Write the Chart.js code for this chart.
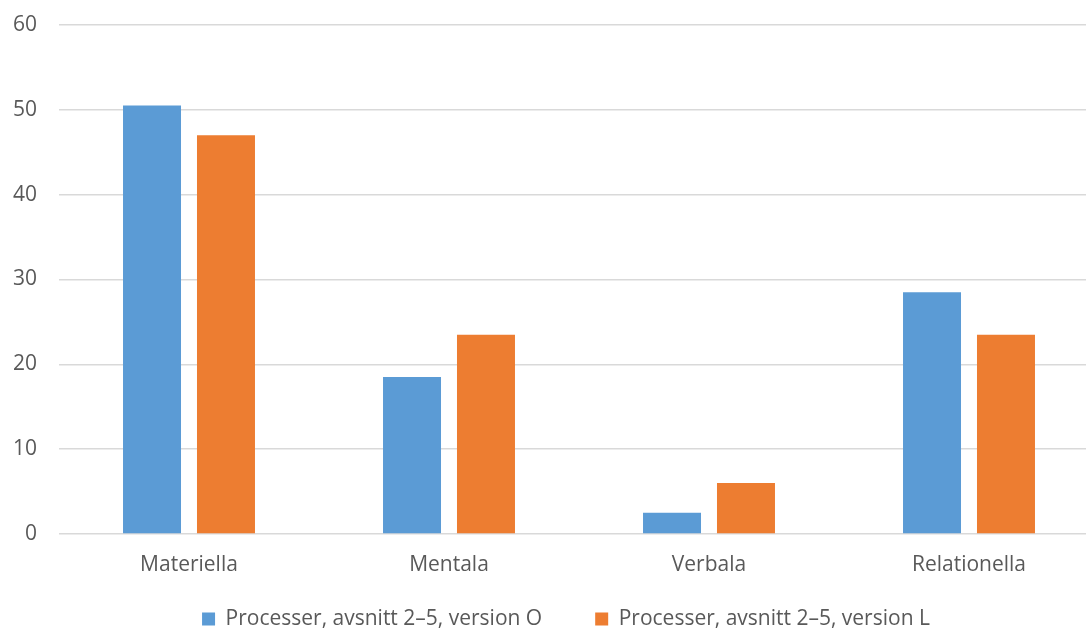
<!DOCTYPE html>
<html>
<head>
<meta charset="utf-8">
<script src="https://cdn.jsdelivr.net/npm/chart.js@4/dist/chart.umd.min.js"></script>
<style>
  html, body { margin: 0; padding: 0; background: #fff; overflow: hidden; }
  #wrap { position: relative; width: 1086px; height: 628px; overflow: hidden; }
</style>
</head>
<body>
<div id="wrap"><canvas id="c" width="1132" height="628"></canvas></div>
<script>
// Process types counted per version
const categories = ['Materiella', 'Mentala', 'Verbala', 'Relationella'];
const versionO = [50.5, 18.5, 2.5, 28.5];
const versionL = [47, 23.5, 6, 23.5];
const seriesNames = ['Processer, avsnitt 2–5, version O', 'Processer, avsnitt 2–5, version L'];
const yTicks = [0, 10, 20, 30, 40, 50, 60];

const textColor = '#595959';
const gridColor = '#D9D9D9';
const fontFamily = '"Open Sans", Lato, sans-serif';
const fontSize = 21;
const PLOT_TOP = 25;
const PLOT_BOTTOM = 534;
const LEGEND_GAP = 53;
const LEGEND_CX = 566;
const LEGEND_CY = 619;

// Place the legend row centred under the whole figure, independent of the layout box
const legendPlacer = {
  id: 'legendPlacer',
  beforeDraw(chart) {
    const lg = chart.legend;
    if (!lg) return;
    const w = lg.right - lg.left;
    lg.left = LEGEND_CX - w / 2;
    lg.right = lg.left + w;
    const itemH = Math.max(fontSize, 13);
    lg.top = LEGEND_CY - LEGEND_GAP - itemH / 2;
    lg.bottom = chart.height;
  }
};

new Chart(document.getElementById('c'), {
  type: 'bar',
  data: {
    labels: categories,
    datasets: [
      { label: seriesNames[0], data: versionO, backgroundColor: '#5B9BD5', borderWidth: 0 },
      { label: seriesNames[1], data: versionL, backgroundColor: '#ED7D31', borderWidth: 0 }
    ]
  },
  plugins: [legendPlacer],
  options: {
    responsive: false,
    animation: false,
    devicePixelRatio: 1,
    categoryPercentage: 0.569,
    barPercentage: 0.784,
    layout: { padding: { top: 0, right: 33, left: 0, bottom: 0 } },
    plugins: {
      tooltip: { enabled: false },
      legend: {
        position: 'bottom',
        maxHeight: 40,
        labels: {
          color: textColor,
          font: { family: fontFamily, size: fontSize },
          boxWidth: 13,
          boxHeight: 13,
          padding: LEGEND_GAP
        }
      }
    },
    scales: {
      x: {
        grid: { display: false, drawTicks: false },
        border: { display: false },
        afterFit: (axis) => {
          const lg = axis.chart.legend;
          axis.height = axis.chart.height - (lg ? lg.height : 0) - PLOT_BOTTOM;
        },
        ticks: { color: textColor, font: { family: fontFamily, size: fontSize }, padding: 18 }
      },
      y: {
        min: 0,
        max: 60,
        afterBuildTicks: (axis) => { axis.ticks = yTicks.map(v => ({ value: v })); },
        afterFit: (axis) => {
          axis.width = 59;
          axis.paddingTop = PLOT_TOP;
          axis.paddingBottom = 0;
        },
        grid: { color: gridColor, lineWidth: 1.5, drawTicks: false },
        border: { display: false },
        ticks: { color: textColor, font: { family: fontFamily, size: fontSize }, padding: 22 }
      }
    }
  }
});
</script>
</body>
</html>
